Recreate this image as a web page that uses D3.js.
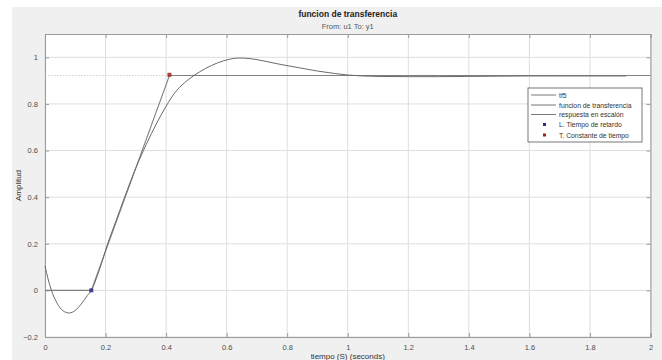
<!DOCTYPE html>
<html>
<head>
<meta charset="utf-8">
<script src="https://cdn.jsdelivr.net/npm/d3@7"></script>
<style>
  body { margin: 0; background: #fff; font-family: "Liberation Sans", Arial, sans-serif; }
  .tick text { fill: #4d4d4d; font-size: 7.5px; }
</style>
</head>
<body>
<div id="chart"></div>
<script>
// step response of tf5
const tfTime = [0, 0.01, 0.02, 0.04, 0.06, 0.08, 0.10, 0.12, 0.14, 0.153, 0.18, 0.207, 0.235, 0.263, 0.30, 0.334, 0.37, 0.40, 0.43, 0.46, 0.49, 0.53, 0.57, 0.61, 0.64, 0.68, 0.72, 0.78, 0.84, 0.90, 0.96, 1.0, 1.1, 1.2, 1.3, 1.4, 1.5, 1.6, 1.7, 1.8, 1.92]
const tfAmp  = [0.105, 0.05, 0.005, -0.055, -0.088, -0.097, -0.086, -0.058, -0.022, 0.0, 0.09, 0.2, 0.30, 0.4, 0.525, 0.625, 0.72, 0.79, 0.85, 0.89, 0.92, 0.952, 0.976, 0.992, 0.997, 0.994, 0.985, 0.969, 0.955, 0.941, 0.930, 0.924, 0.918, 0.917, 0.917, 0.918, 0.919, 0.920, 0.920, 0.920, 0.920]

// first order + dead time approximation
const approxTime = [0, 0.153, 0.411, 2]
const approxAmp  = [0, 0, 0.922, 0.922]

const finalValue = 0.922

// L and T points
const markerTime  = [0.153, 0.411]
const markerAmp   = [0, 0.925]
const markerColor = ["#2b2b80", "#a02020"]

const legendLabels = ["tf5", "funcion de transferencia", "respuesta en escalón", "L. Tiempo de retardo", "T. Constante de tiempo"]

const xTicks = [0, 0.2, 0.4, 0.6, 0.8, 1, 1.2, 1.4, 1.6, 1.8, 2]
const yTicks = [-0.2, 0, 0.2, 0.4, 0.6, 0.8, 1]

const W = 662, H = 360
const margin = {top: 34, right: 11.5, bottom: 23, left: 45}
const width = W - margin.left - margin.right
const height = H - margin.top - margin.bottom

const root = d3.select("#chart").append("svg")
    .attr("width", W)
    .attr("height", H)

// grey figure background
root.append("rect")
    .attr("x", 12).attr("y", 7)
    .attr("width", W - 12).attr("height", H - 7)
    .attr("fill", "#f0f0f0")

const svg = root.append("g")
    .attr("transform", `translate(${margin.left},${margin.top})`)

const x = d3.scaleLinear().domain([0, 2]).range([0, width])
const y = d3.scaleLinear().domain([-0.2, 1.1]).range([height, 0])

svg.append("rect")
    .attr("width", width).attr("height", height)
    .attr("fill", "#fff")

// grid
svg.append("g").selectAll("line")
    .data(xTicks)
    .join("line")
    .attr("x1", d => x(d)).attr("x2", d => x(d))
    .attr("y1", 0).attr("y2", height)
    .attr("stroke", "#dedede").attr("stroke-width", 1)

svg.append("g").selectAll("line")
    .data(yTicks)
    .join("line")
    .attr("x1", 0).attr("x2", width)
    .attr("y1", d => y(d)).attr("y2", d => y(d))
    .attr("stroke", "#dedede").attr("stroke-width", 1)

// axes (ticks inside like matlab)
svg.append("g")
    .attr("transform", `translate(0,${height})`)
    .call(d3.axisBottom(x).tickValues(xTicks).tickSize(-4).tickPadding(8).tickFormat(d3.format("")))
svg.append("g")
    .call(d3.axisLeft(y).tickValues(yTicks).tickSize(-4).tickPadding(7).tickFormat(d3.format("")))
svg.append("g")
    .call(d3.axisTop(x).tickValues(xTicks).tickSize(-4).tickFormat(""))
svg.append("g")
    .attr("transform", `translate(${width},0)`)
    .call(d3.axisRight(y).tickValues(yTicks).tickSize(-4).tickFormat(""))

svg.selectAll(".domain").attr("stroke", "#9a9a9a")
svg.selectAll(".tick line").attr("stroke", "#9a9a9a")

// steady state dotted line
svg.append("line")
    .attr("x1", x(0)).attr("x2", x(2))
    .attr("y1", y(finalValue)).attr("y2", y(finalValue))
    .attr("stroke", "#c8c8c8").attr("stroke-width", 0.8)
    .attr("stroke-dasharray", "1.5,1.5")

const line = d3.line()
    .x(d => x(d[0]))
    .y(d => y(d[1]))

// approximation
svg.append("path")
    .datum(approxTime.map((t, i) => [t, approxAmp[i]]))
    .attr("d", line)
    .attr("fill", "none")
    .attr("stroke", "#808080")
    .attr("stroke-width", 1.1)

// tf5 response
svg.append("path")
    .datum(tfTime.map((t, i) => [t, tfAmp[i]]))
    .attr("d", line.curve(d3.curveMonotoneX))
    .attr("fill", "none")
    .attr("stroke", "#6a6a6a")
    .attr("stroke-width", 1)

// markers
svg.selectAll(".mk")
    .data(markerTime)
    .join("rect")
    .attr("class", "mk")
    .attr("x", d => x(d) - 2).attr("y", (d, i) => y(markerAmp[i]) - 2)
    .attr("width", 4).attr("height", 4)
    .attr("fill", (d, i) => markerColor[i])
    .attr("opacity", 0.85)

// titles
root.append("text")
    .attr("x", margin.left + width / 2).attr("y", 17)
    .attr("text-anchor", "middle")
    .attr("font-size", 8.5).attr("font-weight", "bold")
    .attr("fill", "#222")
    .text("funcion de transferencia")

root.append("text")
    .attr("x", margin.left + width / 2).attr("y", 29)
    .attr("text-anchor", "middle")
    .attr("font-size", 7.5)
    .attr("fill", "#555")
    .text("From: u1  To: y1")

root.append("text")
    .attr("x", margin.left + width / 2).attr("y", 359)
    .attr("text-anchor", "middle")
    .attr("font-size", 8)
    .attr("fill", "#333")
    .text("tiempo (S) (seconds)")

root.append("text")
    .attr("transform", `translate(21,${margin.top + height / 2}) rotate(-90)`)
    .attr("text-anchor", "middle")
    .attr("font-size", 8)
    .attr("fill", "#333")
    .text("Amplitud")

// legend
const lg = root.append("g").attr("transform", "translate(528,88)")
lg.append("rect")
    .attr("width", 114).attr("height", 54)
    .attr("fill", "#fff").attr("stroke", "#555").attr("stroke-width", 0.8)

const rowY = [7, 17, 26.5, 36.5, 47]
lg.selectAll(".lgline")
    .data(legendLabels.slice(0, 3))
    .join("line")
    .attr("x1", 3).attr("x2", 28)
    .attr("y1", (d, i) => rowY[i]).attr("y2", (d, i) => rowY[i])
    .attr("stroke", "#555").attr("stroke-width", 0.8)

lg.selectAll(".lgmk")
    .data(markerColor)
    .join("rect")
    .attr("x", 15).attr("y", (d, i) => rowY[i + 3] - 1.5)
    .attr("width", 3).attr("height", 3)
    .attr("fill", d => d)

lg.selectAll("text")
    .data(legendLabels)
    .join("text")
    .attr("x", 31).attr("y", (d, i) => rowY[i] + 2.5)
    .attr("font-size", 6.8)
    .attr("fill", "#333")
    .text(d => d)
</script>
</body>
</html>
